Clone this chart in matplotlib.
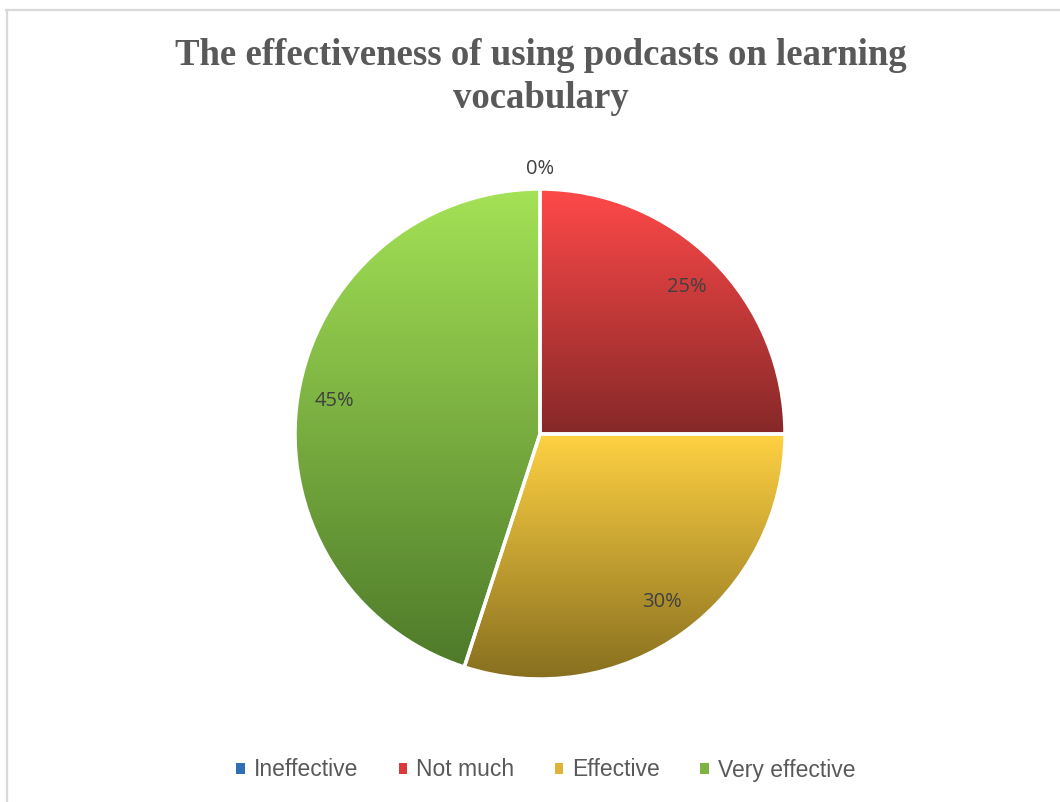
import numpy as np
import matplotlib.pyplot as plt
import matplotlib.patches as pat
from matplotlib.lines import Line2D
from matplotlib.colors import LinearSegmentedColormap

# data
labels = ["Ineffective", "Not much", "Effective", "Very effective"]
shares = [0, 25, 30, 45]

# slice gradients: light at top, dark at bottom
top_colors = ["#3A85D0", "#FF4949", "#FFD142", "#A4E256"]
bottom_colors = ["#1F4E79", "#862828", "#876F1F", "#4E7A2A"]
legend_colors = ["#2F6FB5", "#D93A3A", "#E0B236", "#7DB342"]

W, H = 1060, 802
fig = plt.figure(figsize=(W / 100, H / 100), dpi=100)

# chart frame (only top and left edges show)
fig.add_artist(Line2D([6 / W, 1], [1 - 10 / H, 1 - 10 / H], transform=fig.transFigure,
                      color="#D9D9D9", lw=1.6))
fig.add_artist(Line2D([7 / W, 7 / W], [0, 1 - 10 / H], transform=fig.transFigure,
                      color="#D9D9D9", lw=1.6))

cx, cy, r = 540, 434, 245
ax = fig.add_axes([(cx - r) / W, (H - cy - r) / H, 2 * r / W, 2 * r / H])

wedges, texts, autotexts = ax.pie(shares, startangle=90, counterclock=False, radius=1,
                                  autopct='%1.0f%%', pctdistance=0.85,
                                  wedgeprops=dict(edgecolor='white', linewidth=2.5))
ax.set_aspect('equal')
ax.axis('off')

grad = np.linspace(1, 0, 256).reshape(-1, 1)
for i, w in enumerate(wedges):
    w.set_clip_on(False)
    if shares[i] == 0:
        w.set_visible(False)
        continue
    ext = w.get_path().get_extents()
    cmap = LinearSegmentedColormap.from_list("g%d" % i, [bottom_colors[i], top_colors[i]])
    im = ax.imshow(grad, cmap=cmap, aspect='auto', extent=[ext.x0, ext.x1, ext.y0, ext.y1],
                   origin='upper', zorder=1, vmin=0, vmax=1)
    im.set_clip_path(w)
    w.set_facecolor('none')
    w.set_zorder(2)

for i, t in enumerate(autotexts):
    t.set_fontfamily('Open Sans')
    t.set_fontsize(14.5)
    t.set_color('#404040')
    t.set_zorder(3)
    if shares[i] == 0:
        t.set_position((0, 1.08))

ax.set_xlim(-1, 1)
ax.set_ylim(-1, 1)

fig.text(541 / W, 1 - 77 / H, "The effectiveness of using podcasts on learning\nvocabulary",
         ha='center', va='center', family='Liberation Serif', weight='bold',
         fontsize=26.5, color='#595959', linespacing=1.32)

handles = [pat.Patch(facecolor=c, edgecolor='none') for c in legend_colors]
fig.legend(handles, labels, loc='center', bbox_to_anchor=(546 / W, 1 - 770 / H), ncol=4,
           frameon=False, handlelength=0.38, handleheight=0.38, handletextpad=0.4,
           columnspacing=1.75, prop=dict(family='Liberation Sans', size=16.5),
           labelcolor='#595959')

fig.savefig("out.png", dpi=100)
